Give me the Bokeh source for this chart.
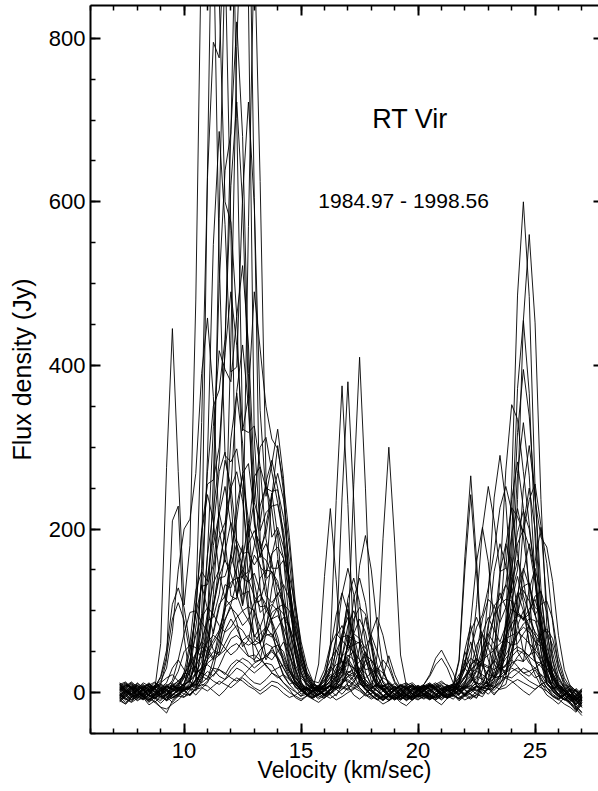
from bokeh.plotting import figure
from bokeh.models import Range1d, LinearAxis, SingleIntervalTicker, Label, CustomJSTickFormatter
from bokeh.embed import file_html
from bokeh.resources import INLINE

# velocity channels (km/sec)
velocity = [7.25, 7.5, 7.75, 8.0, 8.25, 8.5, 8.75, 9.0, 9.25, 9.5, 9.75, 10.0,
            10.25, 10.5, 10.75, 11.0, 11.25, 11.5, 11.75, 12.0, 12.25, 12.5, 12.75, 13.0,
            13.25, 13.5, 13.75, 14.0, 14.25, 14.5, 14.75, 15.0, 15.25, 15.5, 15.75, 16.0,
            16.25, 16.5, 16.75, 17.0, 17.25, 17.5, 17.75, 18.0, 18.25, 18.5, 18.75, 19.0,
            19.25, 19.5, 19.75, 20.0, 20.25, 20.5, 20.75, 21.0, 21.25, 21.5, 21.75, 22.0,
            22.25, 22.5, 22.75, 23.0, 23.25, 23.5, 23.75, 24.0, 24.25, 24.5, 24.75, 25.0,
            25.25, 25.5, 25.75, 26.0, 26.25, 26.5, 26.75, 27.0]

# flux density (Jy) of each epoch, one value per velocity channel
ep01 = [4, 9, 6, -3, -8, -2, 5, 60, 275, 445, 270, 107,
        180, 480, 935, 1150, 940, 530, 290, 282, 298, 248, 138, 64, 60, 82, 105, 122, 110, 76, 50, 20,
        14, 6, 1, 8, 3, -4, 10, 65, 254, 410, 250, 62, 12, 4, -3, -9, -5, 3, 8, 5,
        1, -4, -9, -3, 5, 9, 2, -3, 3, 8, 4, -2, 6, 22, 90, 255, 486, 600, 484, 250, 90, 22, 6, -3, -9, -4, 5, -2]
ep02 = [-6, -2, 7, 11, 4, -5, -1, 10, 40, 210, 228, 68,
        18, 32, 80, 168, 224, 282, 420, 688, 820, 680, 390, 232, 208, 258, 284, 250, 188, 110, 55, 24,
        9, 4, 35, 142, 225, 138, 36, 8, -3, -8, -2, 6, 11, 5, -1, -6, -9, -3, 4, 8,
        3, -2, -7, -1, 6, 10, 40, 166, 265, 162, 42, 5, -3, 6, 10, 38, 108, 205, 250, 200, 102, 38, 12, 3, -6, -11, -3, 5]
ep03 = [10, 3, -4, -9, -3, 6, 12, 7, -2, -8, -1, 7,
        6, 25, 97, 288, 548, 686, 572, 392, 398, 607, 722, 595, 345, 240, 280, 322, 262, 130, 48, 14,
        -3, 2, 5, -2, 5, 58, 238, 380, 234, 55, 10, 4, -3, -9, -4, 3, 9, 6, -2, -5,
        -2, 4, 9, 3, -4, -8, -1, 5, 6, 12, 45, 120, 238, 290, 232, 125, 50, 38, 86, 160, 202, 158, 86, 30, 8, 1, -7, -14]
ep04 = [-3, -9, -5, 4, 9, 2, -6, -10, -2, 8, 5, 6,
        28, 110, 330, 630, 795, 776, 952, 1125, 702, 320, 362, 490, 420, 350, 310, 298, 255, 190, 112, 56,
        25, 12, 6, 20, 52, 95, 122, 98, 48, 20, 8, 2, -5, -9, -3, 4, 10, 6, -1, 3,
        6, 10, 4, -3, -6, 2, 15, 36, 75, 92, 70, 40, 18, 20, 68, 190, 372, 455, 366, 188, 70, 12, 5, 8, 2, -6, -15, -8]
ep05 = [2, 8, 13, 7, -1, -7, -12, -4, 3, 9, 2, 3,
        -4, 5, 22, 88, 262, 500, 638, 684, 1020, 1330, 845, 310, 198, 220, 228, 230, 198, 136, 62, 25,
        6, 1, -4, -7, 0, 7, 10, 30, 78, 155, 192, 150, 82, 30, 8, 2, -4, -10, -5, 3,
        8, 4, -2, 3, 9, 5, -2, 10, 38, 108, 200, 252, 210, 148, 152, 236, 282, 225, 120, 40, 12, 2, -5, -9, -2, 6, 3, -4]
ep06 = [-8, -3, 4, 0, -6, 3, 9, 14, 30, 75, 150, 200,
        212, 268, 390, 458, 362, 198, 160, 430, 790, 990, 1050, 605, 186, 140, 240, 302, 245, 124, 46, 12,
        5, 0, 6, 14, 30, 68, 82, 62, 36, 14, 4, 2, 46, 188, 300, 184, 46, 8, -6, -9,
        -4, 1, 7, 10, 4, -3, -8, -2, 5, 3, -1, 4, 6, 15, 55, 166, 318, 395, 338, 235, 190, 178, 136, 70, 28, 8, -2, 4]
ep07 = [7, 1, -6, -2, 5, 11, 6, -3, -9, -4, 4, 2,
        8, 15, 152, 640, 1080, 852, 600, 575, 460, 270, 190, 236, 300, 312, 270, 232, 186, 130, 82, 40,
        18, 8, 2, 6, 8, 24, 62, 115, 140, 110, 60, 22, 6, -4, -10, -5, 2, 9, 12, 6,
        10, 22, 42, 52, 38, 24, 5, -4, -8, -2, 8, 14, 46, 140, 272, 352, 334, 270, 206, 142, 65, 25, 6, -2, -8, -12, -5, 2]
ep08 = [-4, 5, 10, 3, -5, -11, -6, 2, 9, 12, 4, 4,
        5, 16, 55, 170, 325, 418, 395, 380, 460, 522, 425, 262, 176, 194, 240, 268, 236, 178, 104, 52,
        22, 10, 4, 8, 30, 66, 120, 152, 120, 62, 25, 8, 2, -3, -7, -2, 5, 11, 7, 2,
        -3, -8, -4, 3, 8, 6, 38, 150, 242, 146, 38, 6, -1, 5, 20, 84, 236, 455, 560, 452, 236, 82, 22, 5, 10, 4, -6, -10]
ep09 = [12, 6, -1, 3, 8, 2, -7, -13, -6, 1, 6, 10,
        36, 100, 198, 255, 260, 300, 416, 490, 424, 322, 318, 326, 276, 188, 152, 152, 162, 142, 108, 62,
        32, 14, 4, 8, 58, 235, 375, 230, 56, 12, 3, -4, -9, -5, 2, 7, 3, -3, -6, 1,
        6, 10, 5, -2, -5, 1, 8, 4, -3, -7, 10, 28, 78, 148, 182, 150, 100, 88, 126, 152, 120, 65, 20, 8, 2, -5, -12, -7]
ep10 = [0, -7, -11, -4, 4, 9, 13, 5, -3, 2, 8, 25,
        60, 125, 148, 136, 192, 580, 905, 565, 166, 108, 198, 264, 276, 250, 246, 248, 214, 160, 94, 48,
        20, 8, 3, -3, 5, 12, 30, 58, 90, 104, 96, 64, 34, 12, 2, -4, -8, -2, 5, 9,
        4, -2, -6, 0, 7, 11, 10, 30, 86, 160, 202, 160, 86, 34, 22, 52, 96, 125, 112, 95, 108, 112, 90, 44, 18, 6, -3, -8]
ep11 = [-10, -4, 3, 8, 2, -3, 6, 10, 4, -6, -2, 2,
        6, 15, 52, 98, 134, 150, 198, 310, 366, 305, 180, 110, 112, 138, 148, 136, 100, 58, 30, 12,
        4, -2, 3, 6, 15, 40, 72, 92, 70, 40, 12, 5, 9, 4, -3, -7, -2, 6, 10, 4,
        -3, -8, -4, 2, 7, 3, -2, 6, 8, 18, 40, 84, 106, 115, 132, 195, 225, 190, 132, 104, 98, 72, 40, 15, 6, -2, -8, -3]
ep12 = [6, 11, 4, -5, -9, -2, 8, 18, 44, 90, 110, 88,
        48, 20, 12, 42, 120, 226, 284, 252, 186, 170, 172, 135, 98, 105, 168, 198, 164, 82, 30, 8,
        -3, -6, 2, 5, 8, 12, 6, 3, 5, 15, 40, 72, 92, 70, 36, 14, 5, -1, -6, -3,
        4, 9, 6, -2, -7, -3, 4, 6, 12, 30, 55, 72, 60, 42, 58, 142, 268, 330, 265, 140, 50, 12, 2, -4, 3, 9, 2, -10]
ep13 = [-2, 3, -4, -10, -6, 1, 7, 3, -5, -12, -4, -6,
        3, 8, 28, 75, 150, 190, 208, 250, 368, 425, 350, 210, 165, 205, 244, 192, 104, 38, 10, 4,
        -4, 2, 7, 4, -1, 8, 22, 58, 115, 140, 110, 60, 22, 6, -2, -7, -3, 4, 8, 3,
        -2, -7, -2, 5, 9, 6, 12, 28, 52, 80, 95, 128, 172, 226, 252, 222, 170, 118, 96, 118, 124, 98, 48, 20, 6, -3, -9, -4]
ep14 = [9, 2, -3, 5, 12, 8, 1, -6, -2, 4, 7, 5,
        12, 46, 140, 270, 350, 370, 432, 620, 722, 598, 360, 206, 168, 162, 146, 104, 66, 28, 14, 2,
        5, 1, 4, 10, 26, 50, 68, 70, 64, 60, 40, 22, 8, 2, -5, -9, -3, 5, 9, 4,
        -2, -6, 1, 6, 3, -3, -7, 0, 5, 8, 6, 8, 34, 90, 180, 226, 215, 196, 236, 255, 204, 106, 38, 10, 2, -6, -18, -10]
ep15 = [-5, -12, -6, 2, 7, 3, -4, 6, 12, 30, 40, 28,
        14, 36, 64, 88, 92, 120, 172, 208, 180, 140, 135, 146, 124, 100, 90, 104, 108, 100, 72, 45,
        22, 10, 6, 20, 32, 24, 44, 82, 100, 80, 44, 14, 5, 9, 4, -2, -7, -3, 3, 7,
        3, -2, -6, -1, 8, 10, 18, 30, 42, 36, 32, 58, 95, 122, 104, 75, 95, 148, 182, 145, 78, 28, 4, -3, -8, -2, -15, -6]
ep16 = [3, 9, 5, -4, -1, 6, 2, -5, -3, 12, 26, 50,
        58, 55, 42, 66, 104, 140, 142, 165, 228, 266, 210, 115, 60, 76, 128, 162, 128, 68, 25, 2,
        6, 2, -3, 4, 8, 18, 62, 102, 60, 18, 4, -2, 8, 20, 45, 22, 6, 1, -4, -8,
        -5, -1, 6, 9, 3, 7, 14, 52, 82, 48, 16, 28, 18, 20, 52, 95, 122, 100, 60, 52, 70, 78, 66, 36, 14, 4, -2, -8]
ep17 = [-9, -3, 5, 9, 3, -4, -8, -1, 6, 10, 3, -2,
        6, 10, 32, 62, 108, 142, 162, 145, 120, 100, 105, 100, 80, 45, 40, 50, 62, 46, 28, 8,
        5, -2, -6, -1, 3, 8, 20, 40, 22, 6, -1, 6, 10, 4, -3, -8, -4, 2, 8, 5,
        -1, -5, -9, -3, 4, 8, 5, -2, 2, 6, 12, 26, 40, 30, 22, 44, 82, 100, 80, 40, 18, 6, -2, -7, -3, 4, -20, -12]
ep18 = [5, -1, -8, -3, 6, 10, 4, -5, -9, -3, 2, 3,
        5, 2, 15, 40, 75, 108, 118, 135, 140, 142, 148, 180, 228, 252, 224, 166, 98, 50, 20, 8,
        3, 7, 2, -4, 4, 12, 30, 58, 72, 66, 54, 70, 50, 26, 10, 4, -2, -7, -3, 5,
        9, 5, -1, -6, -2, 5, 8, 6, 15, 40, 72, 92, 76, 62, 82, 132, 162, 138, 90, 74, 64, 50, 24, 10, 3, -4, -9, -2]
ep19 = [1, 7, 12, 5, -3, -6, 0, 7, 3, -4, 4, 12,
        26, 48, 62, 55, 42, 66, 112, 170, 212, 268, 280, 220, 128, 72, 68, 80, 92, 80, 60, 34,
        18, 8, 2, -4, 2, 10, 26, 60, 48, 24, 8, 1, -5, -10, -4, 3, 8, 4, -2, -6,
        -3, 2, 7, 4, -2, -5, 1, 6, 9, 3, 6, 5, 14, 36, 70, 96, 116, 130, 134, 98, 52, 18, 6, -2, -8, -12, -22, -9]
ep20 = [-7, 0, 6, 2, -5, -10, -3, 5, 10, 3, 2, 10,
        38, 100, 195, 242, 210, 145, 115, 106, 86, 56, 64, 98, 140, 150, 148, 130, 112, 80, 46, 25,
        10, 5, -1, -6, -2, 4, 8, 4, 12, 28, 50, 30, 10, 3, 7, 11, 5, -2, -6, -2,
        3, 7, 10, 4, -3, -1, 8, 18, 34, 42, 32, 22, 20, 40, 82, 130, 182, 200, 178, 134, 78, 40, 14, 6, -4, -9, -14, -5]
ep21 = [11, 4, -2, -7, 0, 8, 5, -3, -8, -2, -4, 6,
        4, -3, 5, 12, 30, 60, 88, 108, 135, 150, 138, 118, 105, 106, 88, 68, 38, 22, 6, 4,
        -2, -6, -3, 2, 8, 4, 12, 24, 30, 22, 10, 2, -4, -8, -3, 5, 9, 3, -2, 4,
        8, 4, -3, -8, -2, 5, 9, 3, -2, -6, 2, 4, 3, 10, 26, 52, 72, 84, 90, 88, 66, 36, 12, 4, 8, 2, -10, -4]
ep22 = [-3, -8, -2, 6, 10, 4, 6, 12, 18, 22, 14, 8,
        16, 45, 88, 140, 200, 270, 294, 236, 142, 106, 144, 168, 156, 118, 110, 120, 132, 115, 88, 50,
        24, 14, 12, 28, 58, 72, 64, 55, 58, 62, 48, 26, 8, 3, -4, -8, -2, 6, 10, 4,
        -2, -6, 1, 5, 3, 10, 22, 30, 20, 8, 6, 18, 56, 104, 132, 116, 94, 90, 96, 72, 40, 12, 2, -5, -3, 4, 2, -9]
ep23 = [4, 10, 7, 0, -5, -12, -5, 3, -4, 8, 14, 20,
        12, 10, 26, 52, 64, 76, 100, 156, 182, 152, 98, 68, 80, 100, 108, 100, 72, 46, 18, 10,
        2, -3, 5, 8, 14, 24, 30, 22, 16, 24, 34, 40, 30, 12, 4, -2, -7, -3, 4, 8,
        5, 2, -4, -9, -3, 2, -3, 5, 12, 26, 48, 62, 50, 28, 32, 64, 120, 152, 130, 94, 78, 74, 58, 28, 12, 3, -6, -16]
ep24 = [-1, -6, 2, 8, 4, -3, -7, 0, 7, 5, 9, 18,
        28, 32, 20, 16, 40, 76, 104, 112, 116, 146, 182, 198, 182, 130, 82, 40, 20, 10, 14, 6,
        -3, 2, 5, 8, 20, 14, 44, 70, 45, 12, 4, -3, -8, -4, 2, 7, 3, -3, -6, -1,
        4, 8, 3, -2, -6, 2, 14, 50, 30, 8, -2, 6, 18, 44, 82, 102, 96, 90, 102, 114, 88, 48, 18, 6, 2, -4, -8, -3]
ep25 = [8, 2, -5, -2, 6, 12, 5, -2, 3, -3, 4, 10,
        14, 8, 18, 52, 104, 156, 196, 250, 270, 234, 172, 156, 168, 182, 160, 118, 74, 32, 16, 6,
        4, 2, 8, 22, 40, 52, 38, 22, 20, 56, 92, 55, 14, 6, 1, -5, -9, -4, 3, 6,
        2, -3, -7, -2, 4, 7, 2, 12, 30, 58, 72, 55, 34, 28, 60, 112, 142, 110, 60, 38, 36, 42, 30, 18, 6, -2, -6, 1]
ep26 = [-8, -14, -6, 3, -6, -15, -10, -18, -25, -10, -3, 4,
        8, 14, 26, 40, 50, 46, 52, 66, 70, 62, 45, 40, 52, 60, 56, 40, 22, 10, 2, -5,
        4, -2, -8, -3, 3, 6, 10, 20, 25, 16, 5, -3, -9, -5, 2, 8, 4, -3, -8, -4,
        -2, 6, 10, 14, 8, -3, -7, -2, 4, 2, 8, 14, 24, 30, 26, 32, 44, 52, 40, 22, 8, -3, -8, -14, -6, -12, -20, -28]
ep27 = [3, 8, 1, -6, -2, 5, -3, 2, 6, 15, 40, 72,
        98, 100, 86, 74, 52, 48, 104, 168, 142, 120, 124, 96, 60, 40, 55, 58, 50, 26, 12, 3,
        -4, 2, 6, 10, 18, 26, 32, 44, 50, 40, 28, 30, 20, 8, 3, -2, -7, -4, 2, 6,
        9, 4, -2, -6, 0, 4, 10, 18, 28, 35, 40, 68, 94, 108, 114, 112, 86, 50, 45, 58, 72, 56, 30, 12, 3, -5, -9, 2]
ep28 = [-6, 1, 8, 4, -4, -9, -2, 6, 1, 4, 10, 24,
        22, 80, 132, 102, 72, 104, 132, 128, 152, 180, 108, 38, 40, 72, 98, 104, 96, 82, 58, 30,
        12, 4, 8, 14, 22, 18, 26, 42, 30, 24, 40, 28, 10, 2, -5, -3, 4, 9, 5, -1,
        -5, -9, -4, 2, 6, 9, 12, 36, 62, 38, 12, 10, 26, 50, 64, 58, 60, 72, 82, 64, 36, 10, 4, 9, 5, -3, 2, -7]
ep29 = [10, 13, 6, -2, 3, 8, -1, -8, -3, 2, 7, 3,
        6, 12, 24, 36, 42, 50, 76, 90, 78, 62, 58, 62, 72, 80, 70, 52, 40, 26, 12, 4,
        -3, -7, -2, 2, 8, 4, 12, 20, 14, 6, -2, -6, -2, 7, 11, 5, -1, -6, -9, -3,
        2, 7, 4, -1, -5, -2, 3, 8, 4, -2, -5, 6, 12, 20, 28, 36, 40, 38, 46, 50, 38, 20, 8, -2, 5, -8, -16, -24]
ep30 = [-4, 2, 9, 3, -5, 0, 6, 20, 52, 108, 128, 104,
        58, 24, 38, 90, 180, 220, 186, 118, 114, 164, 206, 186, 154, 145, 170, 178, 164, 116, 74, 36,
        15, 6, 2, 8, 14, 30, 45, 50, 72, 90, 74, 38, 15, 4, 8, 3, -4, -9, -5, 3,
        6, 10, 4, -3, -7, -2, 3, 8, 18, 48, 90, 114, 106, 86, 104, 150, 196, 222, 200, 144, 86, 44, 18, 6, -1, -6, -10, -3]
ep31 = [6, -2, -9, -4, 5, 1, -6, -2, 8, 3, 6, 18,
        52, 96, 130, 132, 156, 218, 252, 205, 118, 168, 570, 918, 625, 262, 190, 202, 178, 134, 78, 40,
        16, 6, 1, -2, 4, 18, 70, 110, 66, 18, 8, 10, 26, 40, 30, 12, 3, -3, -8, -3,
        4, 9, 6, -1, 2, 4, 18, 40, 22, 10, 28, 78, 148, 182, 155, 122, 150, 250, 302, 242, 128, 45, 12, 4, -3, -9, -4, 3]
ep32 = [-11, -5, 2, -3, -8, -2, 5, 9, 2, -6, -5, 4,
        10, 6, 18, 26, 20, 32, 48, 56, 60, 52, 44, 46, 40, 44, 50, 42, 30, 16, 8, -2,
        3, 7, 2, -4, -1, 7, 4, 12, 20, 30, 24, 10, 2, -5, -9, -3, 4, 8, 2, -2,
        10, 20, 34, 42, 30, 12, 2, -4, -1, 8, 3, 10, 18, 26, 34, 40, 32, 24, 26, 30, 22, 10, 3, -5, -2, -10, -6, -14]
ep33 = [10, 4, -2, 12, 6, -4, 8, 3, -10, 6, 12, 8,
        15, 24, 30, 46, 60, 72, 90, 104, 96, 82, 90, 110, 120, 108, 86, 60, 36, 18, 10, 4,
        6, 10, 8, 8, 12, 20, 34, 46, 40, 28, 16, 6, 2, 8, 12, 7, 1, -4, -8, -2,
        3, 8, 12, 6, 2, 3, 12, 20, 28, 34, 40, 46, 52, 60, 66, 70, 74, 68, 60, 52, 44, 30, 16, 6, 2, -4, -10, -18]
ep34 = [-10, -14, -6, -2, -8, -3, -12, -18, -20, -14, -9, -2,
        -2, 6, 12, 18, 30, 28, 22, 34, 40, 36, 30, 24, 30, 36, 34, 22, 12, 4, -6, -10,
        -4, -8, -12, -6, 4, 10, 16, 14, 8, 12, 6, -3, -8, -14, -10, -5, -12, -16, -9, -4,
        -8, -3, -10, -15, -7, -2, -10, -4, 6, 12, 10, 8, 14, 20, 18, 26, 30, 24, 20, 28, 16, 6, -4, -8, -14, -18, -24, -12]
ep35 = [3, -4, -9, -5, 2, 7, 4, -2, -6, 1, 5, 9,
        14, 22, 30, 34, 28, 20, 16, 22, 30, 26, 18, 12, 10, 16, 24, 20, 12, 6, 1, -4,
        -2, 4, 9, 5, -1, 6, 12, 16, 10, 4, -3, -8, -4, 2, 6, 3, -5, -9, -4, 2,
        6, 9, 3, -2, -6, -1, 4, 10, 16, 12, 6, 4, 10, 18, 24, 30, 26, 20, 14, 10, 6, 2, -4, -8, -3, 2, -6, -12]
ep36 = [-6, 0, 5, 9, 4, -2, -7, -3, 4, 8, 6, 2,
        -3, 4, 10, 8, 2, -4, 3, 12, 18, 14, 8, 4, -2, 3, 9, 6, -1, -6, -3, 2,
        5, 8, 3, -3, -7, -2, 4, 9, 6, 2, -4, -1, 5, 9, 4, -2, -5, 0, 6, 3,
        -1, -5, -9, -4, 2, 7, 4, -2, -6, -3, 4, 9, 6, 12, 18, 14, 8, 2, -3, 4, 10, 6, 1, -5, -9, -3, 4, -6]
ep37 = [8, 12, 6, 1, -3, 2, 8, 11, 5, -2, 2, 8,
        18, 32, 48, 62, 70, 64, 54, 46, 52, 64, 70, 60, 44, 32, 26, 30, 34, 26, 14, 6,
        2, -4, -1, 5, 10, 14, 20, 26, 22, 16, 10, 4, -2, -6, -1, 4, 8, 5, -1, -5,
        -3, 3, 8, 12, 9, 4, 6, 12, 20, 26, 22, 16, 20, 30, 42, 50, 56, 52, 44, 38, 32, 22, 10, 3, -2, -8, -4, -10]
ep38 = [-2, -8, -12, -7, -1, 4, 1, -5, -10, -6, -1, 3,
        6, 10, 8, 14, 22, 28, 24, 18, 14, 20, 28, 36, 40, 34, 24, 18, 22, 16, 8, 2,
        -3, -7, -2, 4, 8, 4, -2, 6, 14, 20, 16, 8, 2, -4, -9, -5, 1, 6, 2, -3,
        -7, -2, 4, 8, 3, -2, -8, -4, 2, 8, 14, 10, 6, 12, 20, 18, 24, 30, 26, 18, 22, 16, 8, -2, -8, -14, -22, -15]
ep39 = [5, 1, -3, 2, 7, 10, 4, -1, 3, 9, 14, 22,
        34, 48, 56, 50, 40, 46, 60, 74, 82, 76, 64, 58, 62, 70, 72, 60, 44, 28, 18, 10,
        6, 2, -3, 2, 10, 20, 28, 34, 30, 22, 18, 24, 30, 24, 12, 4, -2, -6, -1, 4,
        8, 12, 6, 0, -4, 2, 6, 14, 22, 30, 36, 32, 28, 34, 46, 60, 72, 80, 74, 62, 56, 40, 22, 8, 0, -5, -10, -4]
ep40 = [0, 6, 11, 5, -3, -8, -4, 3, 8, 4, -1, -5,
        -2, 4, 6, 2, 8, 14, 10, 6, 12, 18, 12, 6, 2, 8, 14, 12, 6, 0, -4, -8,
        -4, 1, 6, 3, -3, -9, -5, 0, 4, 10, 8, 2, -3, -7, -3, 3, 9, 12, 6, 0,
        -5, -8, -3, 2, 6, 2, -4, -9, -5, 1, 6, 10, 8, 4, 6, 12, 16, 12, 8, 4, 10, 14, 8, 2, -6, -12, -18, -25]
ep41 = [-4, 2, 7, 3, -4, -9, -3, 4, 8, 5, 10, 20,
        40, 70, 92, 104, 96, 82, 74, 80, 92, 100, 88, 70, 62, 74, 90, 94, 80, 58, 34, 18,
        10, 4, 8, 16, 26, 34, 38, 36, 30, 38, 46, 40, 26, 14, 6, 1, -4, -8, -3, 3,
        7, 11, 6, -1, -5, 0, 8, 20, 34, 40, 34, 30, 38, 52, 70, 84, 96, 92, 80, 70, 60, 44, 24, 10, 2, -6, -12, -6]
ep42 = [9, 3, -2, -7, -2, 4, 9, 5, -1, -6, -2, 4,
        8, 16, 24, 20, 14, 10, 16, 28, 36, 42, 38, 30, 36, 46, 52, 44, 30, 18, 10, 4,
        0, -5, -2, 4, 9, 6, 14, 24, 28, 20, 12, 6, 10, 18, 14, 6, -1, -5, -9, -4,
        2, 8, 4, -3, -7, -3, 2, 8, 14, 20, 16, 12, 18, 28, 34, 44, 52, 48, 36, 30, 36, 30, 18, 6, -1, -5, -8, -18]

spectra = [ep01, ep02, ep03, ep04, ep05, ep06, ep07, ep08, ep09, ep10, ep11, ep12,
           ep13, ep14, ep15, ep16, ep17, ep18, ep19, ep20, ep21, ep22, ep23, ep24,
           ep25, ep26, ep27, ep28, ep29, ep30, ep31, ep32, ep33, ep34, ep35, ep36,
           ep37, ep38, ep39, ep40, ep41, ep42]

for k, s in enumerate(spectra):
    if len(s) != len(velocity):
        raise ValueError("epoch %d has %d values" % (k + 1, len(s)))

x_ticks_major = 5
y_ticks_major = 200

FONT = "Liberation Sans"

p = figure(width=598, height=791, output_backend="svg", toolbar_location=None,
           x_range=Range1d(6, 27.71), y_range=Range1d(-50, 840),
           min_border_left=90, min_border_right=0, min_border_top=5, min_border_bottom=58,
           x_axis_label="Velocity (km/sec)", y_axis_label="Flux density (Jy)")
p.xgrid.visible = False
p.ygrid.visible = False
p.outline_line_color = None
p.background_fill_color = "white"
p.border_fill_color = "white"

p.multi_line(xs=[velocity] * len(spectra), ys=spectra, line_color="black", line_width=0.9)


def style_axis(ax):
    ax.axis_line_width = 2
    ax.axis_line_color = "black"
    ax.major_tick_in = 10
    ax.major_tick_out = 0
    ax.minor_tick_in = 5
    ax.minor_tick_out = 0
    ax.major_tick_line_width = 2
    ax.minor_tick_line_width = 1.5
    ax.major_tick_line_color = "black"
    ax.minor_tick_line_color = "black"
    ax.major_label_text_font = FONT
    ax.major_label_text_font_size = "22px"
    ax.major_label_text_color = "black"
    ax.axis_label_text_font = FONT
    ax.axis_label_text_font_style = "normal"
    ax.axis_label_text_color = "black"


xa = p.xaxis[0]
ya = p.yaxis[0]
xa.ticker = SingleIntervalTicker(interval=x_ticks_major, num_minor_ticks=5)
ya.ticker = SingleIntervalTicker(interval=y_ticks_major, num_minor_ticks=4)
style_axis(xa)
style_axis(ya)
xa.major_label_standoff = 9
xa.axis_label_standoff = -4
xa.axis_label_text_font_size = "23px"
ya.major_label_standoff = 5
ya.axis_label_standoff = 10
ya.axis_label_text_font_size = "25px"

top = LinearAxis(ticker=SingleIntervalTicker(interval=x_ticks_major, num_minor_ticks=5),
                 formatter=CustomJSTickFormatter(code="return ''"))
style_axis(top)
top.major_label_text_font_size = "0px"
top.major_label_standoff = 0
p.add_layout(top, "above")

right = LinearAxis(ticker=SingleIntervalTicker(interval=y_ticks_major, num_minor_ticks=4),
                   formatter=CustomJSTickFormatter(code="return ''"))
style_axis(right)
right.major_label_text_font_size = "0px"
right.major_label_standoff = 0
right.axis_line_color = None
right.major_tick_in = 5
right.minor_tick_in = 0
p.add_layout(right, "right")

p.add_layout(Label(x=19.65, y=701, text="RT Vir", text_align="center", text_baseline="alphabetic",
                   text_font=FONT, text_font_size="27px", text_color="black"))
p.add_layout(Label(x=19.38, y=601, text="1984.97 - 1998.56", text_align="center",
                   text_baseline="alphabetic", text_font=FONT, text_font_size="21px",
                   text_color="black"))

open("out.html", "w").write(file_html(p, INLINE))
